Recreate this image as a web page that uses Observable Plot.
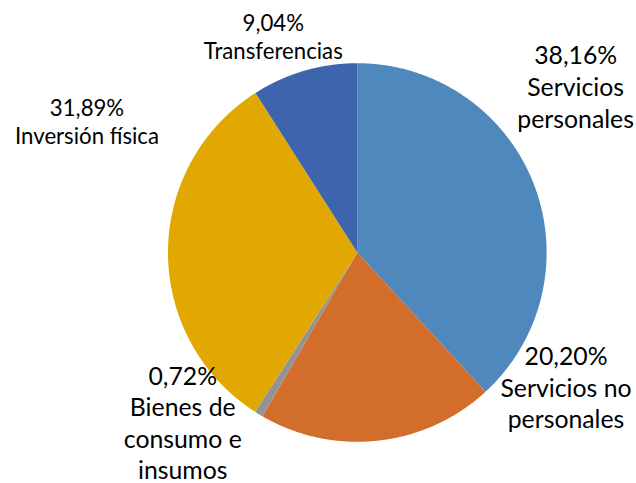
<!DOCTYPE html>
<html>
<head>
<meta charset="utf-8">
<script src="https://cdn.jsdelivr.net/npm/d3@7"></script>
<script src="https://cdn.jsdelivr.net/npm/@observablehq/plot@0.6"></script>
<style>
  html, body { margin: 0; padding: 0; background: #fff; }
  svg { display: block; }
</style>
</head>
<body>
<div id="chart"></div>
<script>
// ---- data ----
const categories = ["Servicios personales", "Servicios no personales", "Bienes de consumo e insumos", "Inversión física", "Transferencias"];
const shares = [38.16, 20.20, 0.72, 31.89, 9.04];
const labelNames = ["Servicios\npersonales", "Servicios no\npersonales", "Bienes de\nconsumo e\ninsumos", "Inversión física", "Transferencias"];

// ---- styling / layout ----
const colors = ["#4F88BD", "#D36D2B", "#939393", "#E0A800", "#3D64AC"];
const W = 636, H = 483;
const cx = 356.8, cy = 252, R = 189.3;
// label font sizes and nudges (pixels from slice mid-angle point on the rim)
const labelStyle = [
  {fs: 24.8, lh: 1.30, dx: 42, dy: -98},
  {fs: 24.8, lh: 1.27, dx: 188, dy: -54},
  {fs: 24.8, lh: 1.27, dx: -76, dy: 8},
  {fs: 22.2, lh: 1.24, dx: -81, dy: -131},
  {fs: 22.2, lh: 1.26, dx: -31, dy: -35}
];

const fmt = v => v.toFixed(2).replace(".", ",") + "%";

const pie = d3.pie().sort(null).value(d => d.value)(categories.map((c, i) => ({name: c, value: shares[i]})));

// polygon points for each slice in unit coordinates (angle 0 at top, clockwise)
const polys = [];
pie.forEach(p => {
  const n = Math.max(2, Math.ceil((p.endAngle - p.startAngle) / 0.005));
  polys.push({name: p.data.name, x: 0, y: 0});
  for (let k = 0; k <= n; k++) {
    const a = p.startAngle + (p.endAngle - p.startAngle) * k / n;
    polys.push({name: p.data.name, x: Math.sin(a), y: Math.cos(a)});
  }
});

const marks = [
  Plot.line(polys, {x: "x", y: "y", z: "name", fill: "name", stroke: "none", curve: "linear"})
];

pie.forEach((p, i) => {
  const a = (p.startAngle + p.endAngle) / 2;
  const st = labelStyle[i];
  marks.push(Plot.text([{x: Math.sin(a), y: Math.cos(a), t: fmt(shares[i]) + "\n" + labelNames[i]}], {
    x: "x", y: "y", text: "t",
    dx: st.dx, dy: st.dy,
    fontSize: st.fs, lineHeight: st.lh,
    fontFamily: "Lato, 'Noto Sans', sans-serif",
    fill: "#000", textAnchor: "middle", lineAnchor: "middle"
  }));
});

const chart = Plot.plot({
  width: W, height: H,
  margin: 0,
  x: {domain: [-1, 1], range: [cx - R, cx + R], axis: null},
  y: {domain: [-1, 1], range: [cy + R, cy - R], axis: null},
  color: {domain: categories, range: colors},
  style: {background: "#fff", overflow: "visible"},
  marks
});
document.getElementById("chart").append(chart);
</script>
</body>
</html>
